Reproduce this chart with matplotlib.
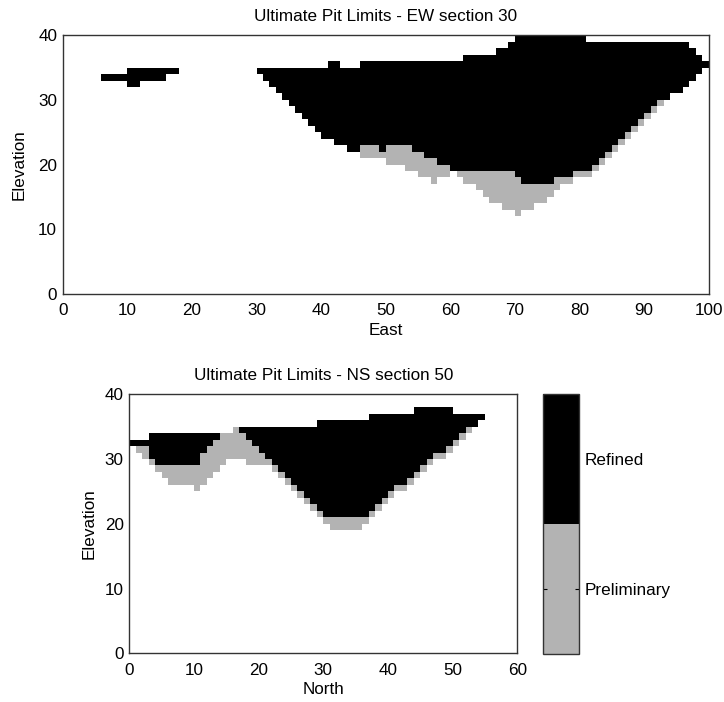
import matplotlib
matplotlib.use('Agg')
import matplotlib.pyplot as plt
import numpy as np
from matplotlib.colors import ListedColormap, Normalize
from matplotlib.colorbar import ColorbarBase

plt.rcParams['font.family'] = ['Liberation Sans', 'DejaVu Sans']
plt.rcParams['font.size'] = 12.3

# ---- EW section 30 (columns 0..99): surface, refined pit bottom, preliminary pit bottom ----
ew_top = ([0]*6 + [34]*4 + [35]*8 + [0]*12 +
          [35]*11 + [36]*2 + [35]*3 + [36]*16 + [37]*5 + [38]*2 + [39] +
          [40]*11 + [39]*16 + [38, 37, 36])
ew_refined = ([0]*6 + [33]*4 + [32]*2 + [33]*4 + [34]*2 + [0]*12 +
              [34, 33, 32, 31, 30, 29, 28, 27, 26, 25, 24, 24, 23, 23, 22, 22,
               23, 23, 23, 22, 23, 23, 23, 23, 22, 22, 21, 21, 20, 20, 19,
               19, 19, 19, 19, 19, 19, 19, 19, 19, 18, 17, 17, 17, 17, 17, 18, 18, 18,
               19, 19, 19, 20, 21, 22, 23, 24, 25, 26, 27, 28, 29, 30,
               30, 31, 31, 32, 33, 34, 35])
ew_prelim = ([0]*6 + [33]*4 + [32]*2 + [33]*4 + [34]*2 + [0]*12 +
             [34, 33, 32, 31, 30, 29, 28, 27, 26, 25, 24, 24, 23, 23, 22, 22,
              21, 21, 21, 21, 20, 20, 20, 19, 19, 18, 18, 17, 18, 18, 19,
              18, 17, 17, 16, 15, 14, 14, 13, 13, 12, 13, 13, 14, 14, 15, 16, 17, 17,
              18, 18, 18, 19, 20, 21, 22, 23, 24, 25, 26, 27, 28, 29,
              30, 31, 31, 32, 33, 34, 35])

# ---- NS section 50 (columns 0..59) ----
ns_top = ([33]*3 + [34]*13 + [35]*13 + [36]*8 + [37]*7 + [38]*6 + [37]*5 + [0]*5)
ns_refined = ([32]*3 + [30] + [29]*7 + [31, 32, 33] + [34, 34, 35] +
              [34, 33, 32, 31, 30, 29, 28, 27, 26, 25, 24, 23, 22, 21] +
              [21]*6 +
              [22, 23, 24, 25, 26, 26, 27, 28, 29, 30, 31, 31, 32, 33, 34, 35, 35, 36] +
              [0]*5)
ns_prelim = ([32, 31, 30, 29, 28, 27, 26, 26, 26, 26, 25, 26, 27, 28, 29, 30, 30,
              30, 29, 29, 29, 29, 28, 27, 26, 25, 24, 23, 22, 21, 20] +
             [19]*5 + [20] +
             [21, 22, 23, 24, 25, 25, 26, 27, 28, 29, 30, 30, 31, 32, 33, 34, 35, 36] +
             [0]*5)

legend_labels = ['Preliminary', 'Refined']
gray = '#b3b3b3'


def section_grid(top, refined, prelim, nrows=40):
    # 0 = outside pit, 1 = preliminary pit only, 2 = refined pit
    grid = np.zeros((nrows, len(top)))
    rows = np.arange(nrows)[:, None]
    top = np.array(top)[None, :]
    refined = np.array(refined)[None, :]
    prelim = np.array(prelim)[None, :]
    grid[(rows >= prelim) & (rows < refined)] = 1
    grid[(rows >= refined) & (rows < top)] = 2
    return grid


cmap = ListedColormap(['white', gray, 'black'])

fig = plt.figure(figsize=(7.24, 7.02), dpi=100)

ax1 = fig.add_axes([0.0866, 0.5816, 0.8923, 0.3681])
g1 = section_grid(ew_top, ew_refined, ew_prelim)
ax1.pcolormesh(np.arange(len(ew_top) + 1), np.arange(41), g1, cmap=cmap, vmin=0, vmax=2)
ax1.set_xlim(0, 100)
ax1.set_ylim(0, 40)
ax1.set_xticks(np.arange(0, 101, 10))
ax1.set_yticks(np.arange(0, 41, 10))
ax1.set_title('Ultimate Pit Limits - EW section 30', fontsize=12.3, pad=10)
ax1.set_xlabel('East', labelpad=3)
ax1.set_ylabel('Elevation', labelpad=8)

ax2 = fig.add_axes([0.1786, 0.0694, 0.5359, 0.3690])
g2 = section_grid(ns_top, ns_refined, ns_prelim)
ax2.pcolormesh(np.arange(len(ns_top) + 1), np.arange(41), g2, cmap=cmap, vmin=0, vmax=2)
ax2.set_xlim(0, 60)
ax2.set_ylim(0, 40)
ax2.set_xticks(np.arange(0, 61, 10))
ax2.set_yticks(np.arange(0, 41, 10))
ax2.set_title('Ultimate Pit Limits - NS section 50', fontsize=12.3, pad=10)
ax2.set_xlabel('North', labelpad=3)
ax2.set_ylabel('Elevation', labelpad=6)

for ax in (ax1, ax2):
    ax.tick_params(axis='x', length=0, pad=7)
    ax.tick_params(axis='y', length=0, pad=4)
    for s in ax.spines.values():
        s.set_linewidth(1.0)
        s.set_color('#333333')

cax = fig.add_axes([0.7504, 0.0679, 0.0497, 0.3704])
cb = ColorbarBase(cax, cmap=ListedColormap([gray, 'black']), norm=Normalize(0.5, 2.5),
                  ticks=[1, 2])
cb.set_ticklabels(legend_labels)
cb.outline.set_linewidth(1.0)
cb.outline.set_edgecolor('#333333')
cax.tick_params(direction='in', left=True, right=True, length=3, width=0.8, pad=4)

fig.savefig('out.png', dpi=100)
